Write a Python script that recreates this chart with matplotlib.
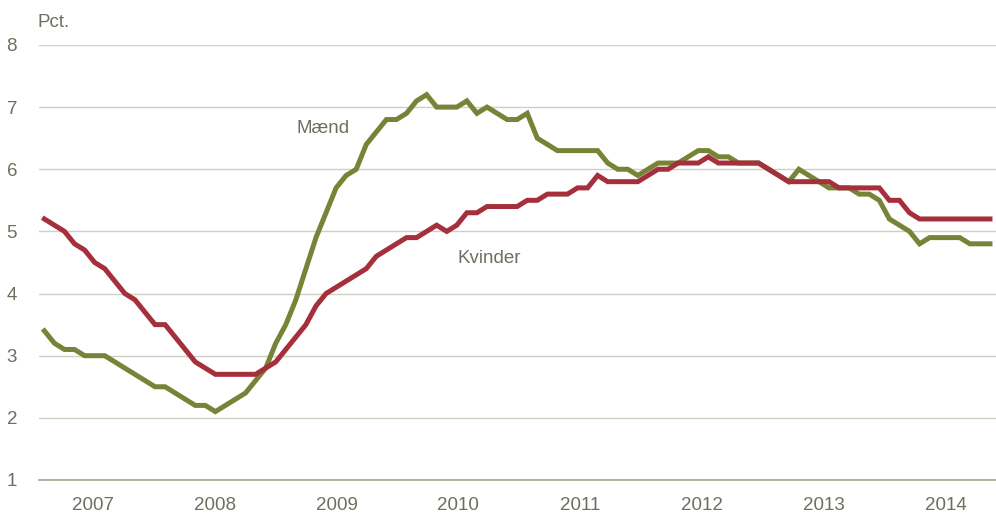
import matplotlib.pyplot as plt
import numpy as np

# monthly unemployment rate, pct.
maend = [3.4, 3.2, 3.1, 3.1, 3.0, 3.0, 3.0, 2.9, 2.8, 2.7, 2.6, 2.5,
         2.5, 2.4, 2.3, 2.2, 2.2, 2.1, 2.2, 2.3, 2.4, 2.6, 2.8, 3.2,
         3.5, 3.9, 4.4, 4.9, 5.3, 5.7, 5.9, 6.0, 6.4, 6.6, 6.8, 6.8,
         6.9, 7.1, 7.2, 7.0, 7.0, 7.0, 7.1, 6.9, 7.0, 6.9, 6.8, 6.8,
         6.9, 6.5, 6.4, 6.3, 6.3, 6.3, 6.3, 6.3, 6.1, 6.0, 6.0, 5.9,
         6.0, 6.1, 6.1, 6.1, 6.2, 6.3, 6.3, 6.2, 6.2, 6.1, 6.1, 6.1,
         6.0, 5.9, 5.8, 6.0, 5.9, 5.8, 5.7, 5.7, 5.7, 5.6, 5.6, 5.5,
         5.2, 5.1, 5.0, 4.8, 4.9, 4.9, 4.9, 4.9, 4.8, 4.8, 4.8]
kvinder = [5.2, 5.1, 5.0, 4.8, 4.7, 4.5, 4.4, 4.2, 4.0, 3.9, 3.7, 3.5,
           3.5, 3.3, 3.1, 2.9, 2.8, 2.7, 2.7, 2.7, 2.7, 2.7, 2.8, 2.9,
           3.1, 3.3, 3.5, 3.8, 4.0, 4.1, 4.2, 4.3, 4.4, 4.6, 4.7, 4.8,
           4.9, 4.9, 5.0, 5.1, 5.0, 5.1, 5.3, 5.3, 5.4, 5.4, 5.4, 5.4,
           5.5, 5.5, 5.6, 5.6, 5.6, 5.7, 5.7, 5.9, 5.8, 5.8, 5.8, 5.8,
           5.9, 6.0, 6.0, 6.1, 6.1, 6.1, 6.2, 6.1, 6.1, 6.1, 6.1, 6.1,
           6.0, 5.9, 5.8, 5.8, 5.8, 5.8, 5.8, 5.7, 5.7, 5.7, 5.7, 5.7,
           5.5, 5.5, 5.3, 5.2, 5.2, 5.2, 5.2, 5.2, 5.2, 5.2, 5.2]
years = ['2007', '2008', '2009', '2010', '2011', '2012', '2013', '2014']

plt.rcParams['font.family'] = ['Liberation Sans', 'DejaVu Sans']
txt_col = '#6f6f60'
green = '#768437'
red = '#a52f3b'
fs = 13.5

fig = plt.figure(figsize=(9.96, 5.15), dpi=100)
ax = fig.add_axes([0.0395, 0.068, 0.9605, 0.8447])

x = np.arange(len(maend))
ax.plot(x, maend, color=green, lw=3.6, solid_joinstyle='miter', zorder=3)
ax.plot(x, kvinder, color=red, lw=3.6, solid_joinstyle='miter', zorder=4)

ax.set_xlim(-0.5, 94.6)
ax.set_ylim(1, 8)
ax.set_yticks(range(1, 9))
ax.yaxis.grid(True, color='#cfcfc3', lw=1)
ax.set_axisbelow(True)

# year labels centred under each year of months
ax.set_xticks(4.8 + 12.12 * np.arange(len(years)))
ax.set_xticklabels(years)
ax.tick_params(axis='both', length=0, labelsize=fs, colors=txt_col)
ax.tick_params(axis='x', pad=12)
ax.tick_params(axis='y', pad=16)

for s in ['top', 'right', 'left']:
    ax.spines[s].set_visible(False)
ax.spines['bottom'].set_color('#a3a391')
ax.spines['bottom'].set_linewidth(1.2)

fig.text(0.038, 0.957, 'Pct.', fontsize=fs, color=txt_col, va='center')
ax.text(27.7, 6.65, 'Mænd', fontsize=fs, color=txt_col, ha='center', va='center')
ax.text(44.2, 4.57, 'Kvinder', fontsize=fs, color=txt_col, ha='center', va='center')

fig.savefig('out.png', dpi=100)
